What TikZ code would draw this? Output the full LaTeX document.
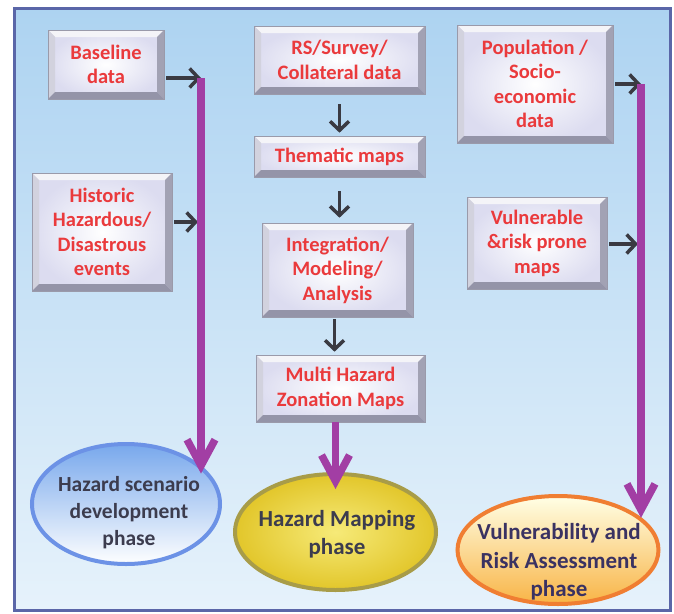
\documentclass[tikz,border=0pt]{standalone}
\usepackage{fontspec}
\setmainfont{Carlito}
\usetikzlibrary{arrows.meta,shapes.geometric}
\definecolor{bgtop}{HTML}{ADD3F1}
\definecolor{bgbot}{HTML}{E6F2FB}
\definecolor{framec}{HTML}{5A66A8}
\definecolor{btnred}{HTML}{EA3A3C}
\definecolor{purp}{HTML}{A23EA4}
\definecolor{darkar}{HTML}{3A3A42}
\definecolor{lav}{HTML}{DCDCF0}
\definecolor{bevtop}{HTML}{F4F4F8}
\definecolor{bevleft}{HTML}{D2D2DE}
\definecolor{bevright}{HTML}{A2A2B4}
\definecolor{bevbot}{HTML}{9494A8}
\definecolor{bevline}{HTML}{9A9AAA}
\definecolor{ellblue}{HTML}{6C92E6}
\definecolor{ellbluetop}{HTML}{78A8EC}
\definecolor{ellgold}{HTML}{E2C62A}
\definecolor{ellgoldin}{HTML}{F6EA78}
\definecolor{ellolive}{HTML}{A89C48}
\definecolor{ellorange}{HTML}{F07E32}
\definecolor{ellorbot}{HTML}{F8B446}
\definecolor{elltext}{HTML}{3C3C4E}
\definecolor{elltextp}{HTML}{3A3262}
\newcommand{\btnfont}{\fontsize{20.5}{24.5}\selectfont\bfseries}
\newcommand{\ellfont}{\fontsize{23}{28.5}\selectfont\bfseries}
\newcommand{\ellfontsm}{\fontsize{21.5}{27}\selectfont\bfseries}
\tikzset{
  btn/.style={rectangle, inner sep=0pt, align=center, text=btnred, font=\btnfont,
    inner color=white, outer color=lav, draw=bevline, line width=0.6pt,
    path picture={
      \fill[bevtop] (path picture bounding box.north west) -- (path picture bounding box.north east)
        -- ([xshift=-7pt,yshift=-7pt]path picture bounding box.north east)
        -- ([xshift=7pt,yshift=-7pt]path picture bounding box.north west) -- cycle;
      \fill[bevleft] (path picture bounding box.north west) -- (path picture bounding box.south west)
        -- ([xshift=7pt,yshift=7pt]path picture bounding box.south west)
        -- ([xshift=7pt,yshift=-7pt]path picture bounding box.north west) -- cycle;
      \fill[bevright] (path picture bounding box.north east) -- (path picture bounding box.south east)
        -- ([xshift=-7pt,yshift=7pt]path picture bounding box.south east)
        -- ([xshift=-7pt,yshift=-7pt]path picture bounding box.north east) -- cycle;
      \fill[bevbot] (path picture bounding box.south west) -- (path picture bounding box.south east)
        -- ([xshift=-7pt,yshift=7pt]path picture bounding box.south east)
        -- ([xshift=7pt,yshift=7pt]path picture bounding box.south west) -- cycle;
    }},
  phase/.style={ellipse, inner sep=0pt, line width=4pt},
  etext/.style={align=center, font=\ellfont, inner sep=0pt},
  darr/.style={draw=darkar, line width=3.5pt, -{Straight Barb[length=9pt,width=19pt]}},
  parr/.style={draw=purp, line width=7.5pt, -{Straight Barb[length=26pt,width=28pt]}},
}
\begin{document}
\begin{tikzpicture}[x=1pt,y=-1pt]
\useasboundingbox (0,0) rectangle (674,613);
\fill[white] (0,0) rectangle (674,613);
\shade[top color=bgtop, bottom color=bgbot] (14,8) rectangle (670,610);
\draw[framec, line width=3pt] (14,8) rectangle (670,610);

% boxes
\node[btn, minimum width=116pt, minimum height=69pt] (base) at (106,64.5) {Baseline\\data};
\node[btn, minimum width=140pt, minimum height=118pt] (hist) at (102,232) {Historic\\Hazardous/\\Disastrous\\events};
\node[btn, minimum width=171pt, minimum height=68pt] (rs) at (339.5,60) {RS/Survey/\\Collateral data};
\node[btn, minimum width=171pt, minimum height=41pt] (them) at (339.5,156.5) {Thematic maps};
\node[btn, minimum width=151pt, minimum height=94pt] (integ) at (337.5,270) {Integration/\\Modeling/\\Analysis};
\node[btn, minimum width=169pt, minimum height=67pt] (multi) at (340.5,388.5) {Multi Hazard\\Zonation Maps};
\node[btn, minimum width=156pt, minimum height=118pt] (pop) at (535,84) {Population /\\Socio-\\economic\\data};
\node[btn, minimum width=140pt, minimum height=92pt] (vuln) at (537,243) {Vulnerable\\\&risk prone\\maps};

% phases
\node[phase, draw=ellblue, top color=ellbluetop, bottom color=white!95!bgbot, minimum width=188pt, minimum height=120pt] (hsd) at (126,504) {};
\node[etext, font=\ellfontsm, text=elltext] (hsdt) at (129,513) {Hazard scenario\\development\\phase};
\node[phase, draw=ellolive, inner color=ellgoldin, outer color=ellgold, minimum width=201pt, minimum height=116pt] (hm) at (335.5,532) {};
\node[etext, text=elltext] (hmt) at (337,534) {Hazard Mapping\\phase};
\node[phase, draw=ellorange, top color=white!90!yellow, bottom color=ellorbot, minimum width=201pt, minimum height=108pt] (vra) at (558,550) {};
\node[etext, text=elltextp] (vrat) at (559,562) {Vulnerability and\\Risk Assessment\\phase};

\coordinate (topL) at (201,78);
\coordinate (topR) at (641,84);

% black connectors
\draw[darr, shorten <=2pt] ([yshift=-13.5pt]base.east) -- (topL);
\draw[darr, shorten <=2pt, shorten >=3pt] ([yshift=10pt]hist.east) -- ([yshift=10pt]hist.east -| topL);
\draw[darr, shorten <=2pt] (pop.east) -- (topR);
\draw[darr, shorten <=2pt, shorten >=3pt] ([yshift=-1pt]vuln.east) -- ([yshift=-1pt]vuln.east -| topR);
\draw[darr, shorten <=10pt, shorten >=3pt] (rs.south) -- (them.north);
\draw[darr, shorten <=14pt, shorten >=5pt] (them.south) -- (them.south |- integ.north);
\draw[darr, shorten <=2pt, shorten >=3pt] ([xshift=-3pt]integ.south) -- ([xshift=-3pt]integ.south |- multi.north);

% purple connectors
\draw[parr] (topL) -- (topL |- hsd.20);
\draw[parr] (hm.north |- multi.south) -- ([yshift=-17pt]hm.north);
\draw[parr] (topR) -- (topR |- vra.21);
\end{tikzpicture}
\end{document}
